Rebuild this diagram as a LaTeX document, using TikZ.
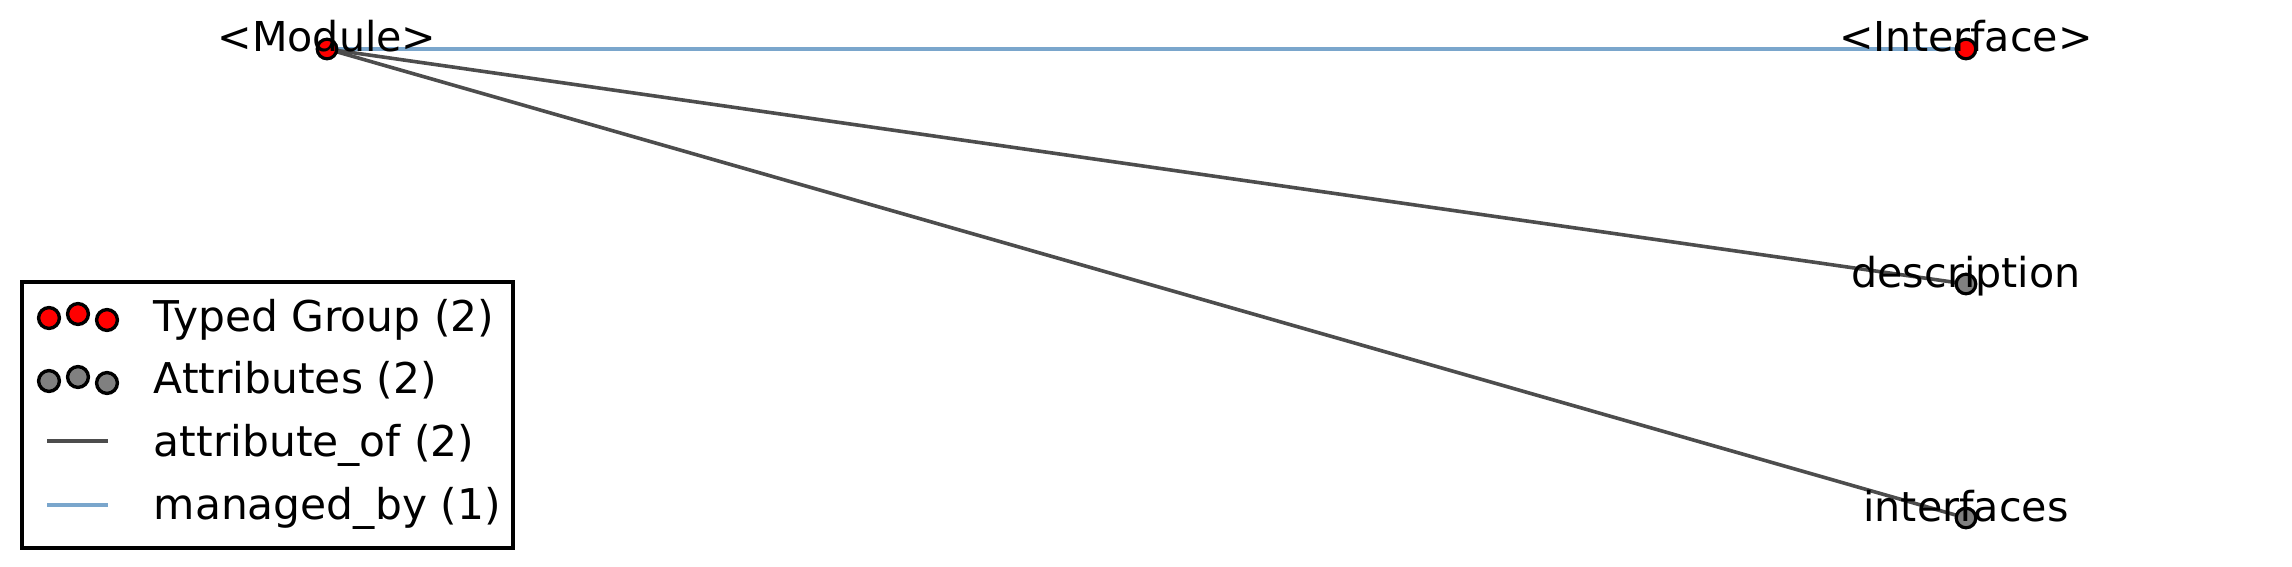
\documentclass[tikz,border=0pt]{standalone}
\usepackage{fontspec}
\setmainfont{DejaVu Sans}
\definecolor{redfill}{RGB}{255,0,0}
\definecolor{grayfill}{RGB}{128,128,128}
\definecolor{attrline}{RGB}{77,77,77}
\definecolor{mgline}{RGB}{122,166,204}
\tikzset{
  px/.style={x=0.25pt,y=-0.25pt},
  dotbase/.style={circle,draw=black,line width=0.8pt,minimum size=4.9pt,inner sep=0pt},
  typeddot/.style={dotbase,fill=redfill},
  attrdot/.style={dotbase,fill=grayfill},
  legdotbase/.style={circle,draw=black,line width=0.85pt,minimum size=5.2pt,inner sep=0pt},
  legtyped/.style={legdotbase,fill=redfill},
  legattr/.style={legdotbase,fill=grayfill},
  lbl/.style={anchor=base,inner sep=0pt,font=\fontsize{10.3}{12}\selectfont},
  legtext/.style={anchor=base west,inner sep=0pt,font=\fontsize{10.6}{12}\selectfont},
  attredge/.style={draw=attrline,line width=0.9pt},
  mgedge/.style={draw=mgline,line width=0.9pt},
  legbox/.style={draw=black,line width=1pt,fill=white,minimum width=122.75pt,minimum height=66.5pt,anchor=north west,inner sep=0pt}
}
\begin{document}
\begin{tikzpicture}[px]
\useasboundingbox (0,0) rectangle (2292,567);
% node positions
\coordinate (pMod) at (327,49);
\coordinate (pInt) at (1966,49);
\coordinate (pDesc) at (1966,284);
\coordinate (pIfs) at (1966,518);
% edges
\draw[mgedge] (pMod) -- (pInt);
\draw[attredge] (pMod) -- (pDesc);
\draw[attredge] (pMod) -- (pIfs);
% dots
\node[typeddot] (mod) at (pMod) {};
\node[typeddot] (int) at (pInt) {};
\node[attrdot] (desc) at (pDesc) {};
\node[attrdot] (ifs) at (pIfs) {};
% labels
\node[lbl] (lmod) at (327,51) {<Module>};
\node[lbl] (lint) at (1966,51) {<Interface>};
\node[lbl] (ldesc) at (1966,287) {description};
\node[lbl] (lifs) at (1966,521) {interfaces};
% legend
\node[legbox] (leg) at (20,280) {};
\node[legtyped] (lt1) at (49,318) {};
\node[legtyped] (lt2) at (78,314) {};
\node[legtyped] (lt3) at (107,320) {};
\node[legattr] (la1) at (49,381) {};
\node[legattr] (la2) at (78,377) {};
\node[legattr] (la3) at (107,383) {};
\coordinate (lao1) at (47,441);
\coordinate (lao2) at (108,441);
\draw[attredge] (lao1) -- (lao2);
\coordinate (lmb1) at (47,505);
\coordinate (lmb2) at (108,505);
\draw[mgedge] (lmb1) -- (lmb2);
\node[legtext] (ltx1) at (153,331) {Typed Group (2)};
\node[legtext] (ltx2) at (153,393) {Attributes (2)};
\node[legtext] (ltx3) at (153,456) {attribute\_of (2)};
\node[legtext] (ltx4) at (153,519) {managed\_by (1)};
\end{tikzpicture}
\end{document}
